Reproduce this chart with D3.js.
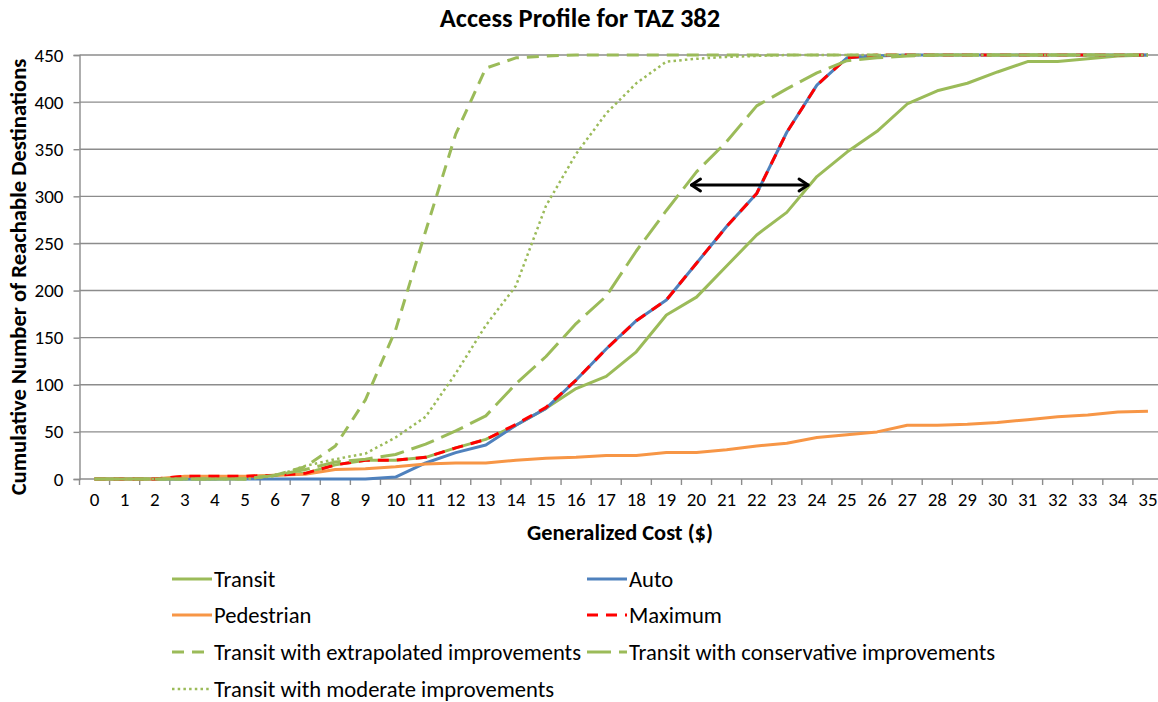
<!DOCTYPE html>
<html>
<head>
<meta charset="utf-8">
<script src="https://cdnjs.cloudflare.com/ajax/libs/d3/7.8.5/d3.min.js"></script>
<style>
  html, body { margin: 0; padding: 0; background: #fff; }
  svg { display: block; }
  text { font-family: Carlito, Lato, "Open Sans", sans-serif; fill: #000; }
</style>
</head>
<body>
<svg id="chart" width="1158" height="702"></svg>
<script>
// Generalized cost categories ($) on the horizontal axis
const costs = [0,1,2,3,4,5,6,7,8,9,10,11,12,13,14,15,16,17,18,19,20,21,22,23,24,25,26,27,28,29,30,31,32,33,34,35];

// Cumulative number of reachable destinations per mode
const transit = [0,0,0,0,0,2,4,6,15,20,20,23,33,42,57,75,96,109,135,174,193,226,259,283,321,347,369,398,412,420,432,443,443,446,449,450];
const auto = [0,0,0,0,0,0,0,0,0,0,2,17,28,36,57,75,105,138,168,190,229,268,303,368,418,447,449,450,450,450,450,450,450,450,450,450];
const pedestrian = [0,0,0,3,3,3,4,5,10,11,13,16,17,17,20,22,23,25,25,28,28,31,35,38,44,47,50,57,57,58,60,63,66,68,71,72];
const maximum = [0,0,0,3,3,3,4,6,15,20,20,23,33,42,58,76,105,138,168,190,229,268,303,368,418,447,450,450,450,450,450,450,450,450,450,450];
const transitExtrapolated = [0,0,0,0,0,0,4,13,35,84,158,263,366,436,447,449,450,450,450,450,450,450,450,450,450,450,450,450,450,450,450,450,450,450,450,450];
const transitConservative = [0,0,0,0,0,0,4,10,18,21,26,37,51,67,101,130,165,194,242,285,326,358,396,414,431,444,447,449,450,450,450,450,450,450,450,450];
const transitModerate = [0,0,0,0,0,0,3,14,21,27,44,66,112,163,205,290,345,388,420,443,446,448,449,450,450,450,450,450,450,450,450,450,450,450,450,450];

// Value axis ticks
const yTicks = [0,50,100,150,200,250,300,350,400,450];

// Double-headed arrow marking the cost gap at a fixed destination count
const arrowFrom = 19.8, arrowTo = 23.74, arrowLevel = 312;

const seriesList = [
  { name: "Transit", values: transit, color: "#9BBB59", dash: null, width: 3 },
  { name: "Auto", values: auto, color: "#4F81BD", dash: null, width: 3 },
  { name: "Pedestrian", values: pedestrian, color: "#F79646", dash: null, width: 3 },
  { name: "Maximum", values: maximum, color: "#FF0000", dash: "11,8", width: 3 },
  { name: "Transit with extrapolated improvements", values: transitExtrapolated, color: "#9BBB59", dash: "12,8", width: 3 },
  { name: "Transit with conservative improvements", values: transitConservative, color: "#9BBB59", dash: "24,8", width: 3 },
  { name: "Transit with moderate improvements", values: transitModerate, color: "#9BBB59", dash: "2.5,3.2", width: 2.5 }
];

const svg = d3.select("#chart");
const plot = { left: 79.5, right: 1163, top: 55, bottom: 479 };

// Category bands: each cost sits at the centre of its band
const x = d3.scaleLinear().domain([-0.5, costs.length - 0.5]).range([plot.left, plot.right]);
const y = d3.scaleLinear().domain([0, 450]).range([plot.bottom, plot.top]);

const gridColor = "#8C8C8C";
const tickFont = 19;
const legendFont = 22.6;

// Horizontal gridlines
svg.append("g").selectAll("line").data(yTicks.filter(d => d > 0)).join("line")
  .attr("x1", plot.left).attr("x2", plot.right)
  .attr("y1", d => y(d)).attr("y2", d => y(d))
  .attr("stroke", gridColor).attr("stroke-width", 1.4);

// Value axis
const yAxis = svg.append("g").attr("transform", `translate(${plot.left},0)`)
  .call(d3.axisLeft(y).tickValues(yTicks).tickSize(6).tickPadding(10));
yAxis.select(".domain").attr("stroke", gridColor).attr("stroke-width", 1.4);
yAxis.selectAll(".tick line").attr("stroke", gridColor).attr("stroke-width", 1.4);
yAxis.selectAll("text").attr("font-size", tickFont).attr("font-family", "Carlito, Lato, sans-serif").attr("fill", "#000");

// Category axis: ticks fall between categories, labels at centres
const xAxisG = svg.append("g").attr("transform", `translate(0,${plot.bottom})`);
xAxisG.append("line").attr("x1", plot.left).attr("x2", plot.right).attr("y1", 0).attr("y2", 0)
  .attr("stroke", gridColor).attr("stroke-width", 1.4);
xAxisG.selectAll("line.tick").data(d3.range(costs.length + 1)).join("line")
  .attr("class", "tick")
  .attr("x1", i => x(i - 0.5)).attr("x2", i => x(i - 0.5))
  .attr("y1", 0).attr("y2", 6)
  .attr("stroke", gridColor).attr("stroke-width", 1.4);
xAxisG.selectAll("text").data(costs).join("text")
  .attr("x", (d, i) => x(i)).attr("y", 27)
  .attr("text-anchor", "middle").attr("font-size", tickFont)
  .text(d => d);

// Series lines
const line = d3.line().x((d, i) => x(i)).y(d => y(d));
svg.append("g").selectAll("path").data(seriesList).join("path")
  .attr("d", s => line(s.values))
  .attr("fill", "none")
  .attr("stroke", s => s.color)
  .attr("stroke-width", s => s.width)
  .attr("stroke-dasharray", s => s.dash)
  .attr("stroke-linejoin", "round");

// Arrow annotation
const ay = y(arrowLevel), ax1 = x(arrowFrom), ax2 = x(arrowTo);
const arrow = svg.append("g").attr("stroke", "#000").attr("stroke-width", 3).attr("fill", "none")
  .attr("stroke-linecap", "round").attr("stroke-linejoin", "round");
arrow.append("line").attr("x1", ax1 + 1).attr("x2", ax2 - 1).attr("y1", ay).attr("y2", ay);
arrow.append("path").attr("d", `M${ax1 + 10},${ay - 6} L${ax1 + 1},${ay} L${ax1 + 10},${ay + 6}`);
arrow.append("path").attr("d", `M${ax2 - 10},${ay - 6} L${ax2 - 1},${ay} L${ax2 - 10},${ay + 6}`);

// Titles
svg.append("text").attr("x", 580).attr("y", 27).attr("text-anchor", "middle")
  .attr("font-size", 26.5).attr("font-weight", "bold").text("Access Profile for TAZ 382");
svg.append("text").attr("x", 620).attr("y", 540).attr("text-anchor", "middle")
  .attr("font-size", 22.4).attr("font-weight", "bold").text("Generalized Cost ($)");
svg.append("text").attr("transform", `translate(26,${(62 + 492) / 2}) rotate(-90)`)
  .attr("text-anchor", "middle").attr("font-size", 22.6).attr("font-weight", "bold")
  .text("Cumulative Number of Reachable Destinations");

// Legend, two columns, filled row by row
const legendCols = [172, 587];
const legendRows = [579, 615, 652, 689];
const legend = svg.append("g").selectAll("g").data(seriesList).join("g")
  .attr("transform", (s, i) => `translate(${legendCols[i % 2]},${legendRows[Math.floor(i / 2)]})`);
legend.append("line").attr("x1", 0).attr("x2", 40).attr("y1", 0).attr("y2", 0)
  .attr("stroke", s => s.color).attr("stroke-width", s => s.width)
  .attr("stroke-dasharray", s => s.dash);
legend.append("text").attr("x", 42).attr("y", 0).attr("dy", "0.35em")
  .attr("font-size", legendFont).text(s => s.name);
</script>
</body>
</html>
